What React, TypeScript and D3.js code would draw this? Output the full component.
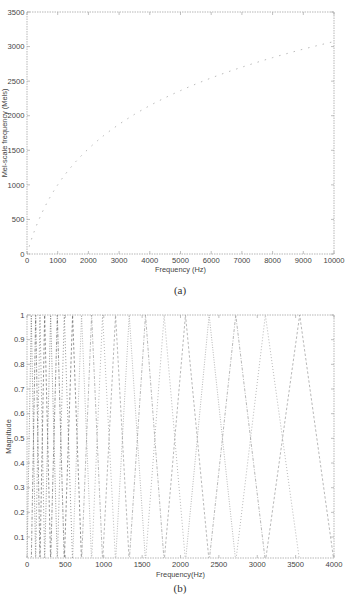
import React from "react";
import * as d3 from "d3";

// ---- Panel (a): Hz -> Mel curve ----
const melFreqHz = [0, 100, 250, 500, 750, 1000, 1500, 2000, 2500, 3000, 3500, 4000, 4500, 5000, 5500, 6000, 6500, 7000, 7500, 8000, 8500, 9000, 9500, 10000];
const melValues = [0, 150, 344, 607, 821, 1000, 1291, 1521, 1713, 1876, 2019, 2146, 2260, 2363, 2458, 2546, 2627, 2702, 2773, 2840, 2903, 2963, 3019, 3073];
const topXTicks = [0, 1000, 2000, 3000, 4000, 5000, 6000, 7000, 8000, 9000, 10000];
const topYTicks = [0, 500, 1000, 1500, 2000, 2500, 3000, 3500];

// ---- Panel (b): triangular filter bank ----
const filterPeaksHz = [56, 113, 169, 230, 308, 395, 486, 594, 711, 842, 985, 1154, 1332, 1544, 1787, 2065, 2373, 2720, 3106, 3553];
const filterStartHz = 0;
const filterEndHz = 4000;
const triangleShape = [0, 1, 0];
const botXTicks = [0, 500, 1000, 1500, 2000, 2500, 3000, 3500, 4000];
const botYTicks = [0.1, 0.2, 0.3, 0.4, 0.5, 0.6, 0.7, 0.8, 0.9, 1];

const FONT = "'Liberation Sans', Arial, sans-serif";
const TXT = "#444";
const AX = "#a5a5a5";

type PanelProps = {
  left: number; right: number; top: number; bottom: number;
  x: d3.ScaleLinear<number, number>; y: d3.ScaleLinear<number, number>;
  xTicks: number[]; yTicks: number[]; yFmt: (v: number) => string;
  xTitle: string; yTitle: string; yTitleX: number; xTitleY: number;
  caption: string; captionY: number; clipId: string;
  children: React.ReactNode;
};

function Panel(p: PanelProps) {
  const tl = 3;
  return (
    <g>
      <defs>
        <clipPath id={p.clipId}>
          <rect x={p.left} y={p.top} width={p.right - p.left} height={p.bottom - p.top} />
        </clipPath>
      </defs>
      <g clipPath={`url(#${p.clipId})`}>{p.children}</g>
      <rect x={p.left} y={p.top} width={p.right - p.left} height={p.bottom - p.top}
        fill="none" stroke={AX} strokeWidth={0.8} strokeDasharray="1.5,1" />
      {p.xTicks.map((t) => (
        <g key={"x" + t}>
          <line x1={p.x(t)} x2={p.x(t)} y1={p.bottom} y2={p.bottom - tl} stroke={AX} strokeWidth={0.7} />
          <line x1={p.x(t)} x2={p.x(t)} y1={p.top} y2={p.top + tl} stroke={AX} strokeWidth={0.7} />
          <text x={p.x(t)} y={p.bottom + 8.5} fontSize={7.6} fontFamily={FONT} fill={TXT} textAnchor="middle">{t}</text>
        </g>
      ))}
      {p.yTicks.map((t) => (
        <g key={"y" + t}>
          <line x1={p.left} x2={p.left + tl} y1={p.y(t)} y2={p.y(t)} stroke={AX} strokeWidth={0.7} />
          <line x1={p.right} x2={p.right - tl} y1={p.y(t)} y2={p.y(t)} stroke={AX} strokeWidth={0.7} />
          <text x={p.left - 2.5} y={p.y(t) + 2.7} fontSize={7.6} fontFamily={FONT} fill={TXT} textAnchor="end">{p.yFmt(t)}</text>
        </g>
      ))}
      <text x={(p.left + p.right) / 2} y={p.xTitleY} fontSize={7.4} fontFamily={FONT} fill={TXT} textAnchor="middle">{p.xTitle}</text>
      <text transform={`translate(${p.yTitleX},${(p.top + p.bottom) / 2}) rotate(-90)`} fontSize={7.4} fontFamily={FONT} fill={TXT} textAnchor="middle">{p.yTitle}</text>
      <text x={180} y={p.captionY} fontSize={11} fontFamily="'Liberation Serif', 'Times New Roman', serif" fill="#333" textAnchor="middle">{p.caption}</text>
    </g>
  );
}

const lineStyles = ["1,1.5", "3,1.5,1,1.5", "1,2", "2.5,2"];

export default function App() {
  const W = 347, H = 595;
  const L = 27, R = 334;

  const xa = d3.scaleLinear().domain([0, 10000]).range([L, R]);
  const ya = d3.scaleLinear().domain([0, 3500]).range([254, 12]);
  const melPts = melFreqHz.map((f, i) => [f, melValues[i]] as [number, number]);
  const melLine = d3.line<[number, number]>().x((d) => xa(d[0])).y((d) => ya(d[1])).curve(d3.curveMonotoneX);

  const xb = d3.scaleLinear().domain([0, 4000]).range([L, R]);
  const yb = d3.scaleLinear().domain([0.015, 1]).range([558, 315]);
  const edges = [filterStartHz, ...filterPeaksHz, filterEndHz];
  const triLine = d3.line<[number, number]>().x((d) => xb(d[0])).y((d) => yb(d[1]));
  const filters = filterPeaksHz.map((_, i) =>
    [edges[i], edges[i + 1], edges[i + 2]].map((f, j) => [f, triangleShape[j]] as [number, number])
  );

  return (
    <svg width={W} height={H} style={{ position: "absolute", left: 0, top: 0, background: "#fff" }}>
      <rect width={W} height={H} fill="#fff" />
      <Panel left={L} right={R} top={12} bottom={254} x={xa} y={ya}
        xTicks={topXTicks} yTicks={topYTicks} yFmt={(v) => String(v)}
        xTitle="Frequency (Hz)" yTitle="Mel-scale frequency (Mels)" yTitleX={6.5} xTitleY={271.5}
        caption="(a)" captionY={293.5} clipId="clipA">
        <path d={melLine(melPts) || ""} fill="none" stroke="#a8a8a8" strokeWidth={0.8} strokeDasharray="1.5,6" />
      </Panel>
      <Panel left={L} right={R} top={315} bottom={558} x={xb} y={yb}
        xTicks={botXTicks} yTicks={botYTicks} yFmt={(v) => String(v)}
        xTitle="Frequency(Hz)" yTitle="Magnitude" yTitleX={10.5} xTitleY={576.5}
        caption="(b)" captionY={591.5} clipId="clipB">
        {filters.map((pts, i) => (
          <path key={i} d={triLine(pts) || ""} fill="none"
            stroke={i < 8 ? "#666" : "#999"} strokeWidth={0.7}
            strokeDasharray={lineStyles[i % lineStyles.length]} />
        ))}
      </Panel>
    </svg>
  );
}
